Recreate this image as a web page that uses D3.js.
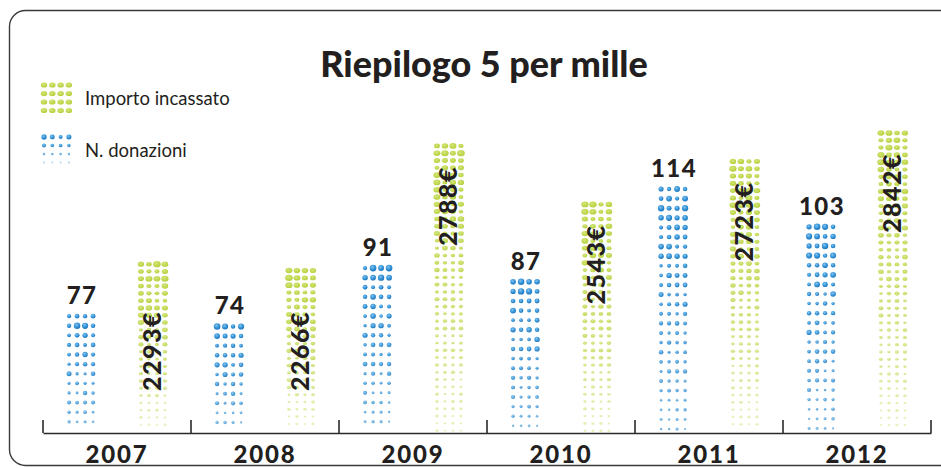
<!DOCTYPE html>
<html>
<head>
<meta charset="utf-8">
<script src="https://cdn.jsdelivr.net/npm/d3@7"></script>
<style>
  html, body { margin: 0; padding: 0; background: #fff; }
  svg { display: block; }
  text { font-family: Lato, "Open Sans", sans-serif; fill: #231f20; }
</style>
</head>
<body>
<svg id="chart" width="941" height="468"></svg>
<script>
// data
const years = ['2007', '2008', '2009', '2010', '2011', '2012']
const donazioni = [77, 74, 91, 87, 114, 103]
const importi = [2293, 2266, 2788, 2543, 2723, 2842]
const seriesKeys = ['donazioni', 'importo']
const legendLabels = ['Importo incassato', 'N. donazioni']
const title = 'Riepilogo 5 per mille'

const baseY = 433
const colors = { donazioni: 'url(#gradBlue)', importo: 'url(#gradGreen)' }

const svg = d3.select('#chart')

const defs = svg.append('defs')
const gBlue = defs.append('radialGradient').attr('id', 'gradBlue')
  .attr('cx', '40%').attr('cy', '35%').attr('r', '70%')
gBlue.append('stop').attr('offset', '0%').attr('stop-color', '#7fc2ee')
gBlue.append('stop').attr('offset', '60%').attr('stop-color', '#2d8ed4')
gBlue.append('stop').attr('offset', '100%').attr('stop-color', '#1f74b9')
const gGreen = defs.append('radialGradient').attr('id', 'gradGreen')
  .attr('cx', '40%').attr('cy', '35%').attr('r', '70%')
gGreen.append('stop').attr('offset', '0%').attr('stop-color', '#d3e576')
gGreen.append('stop').attr('offset', '100%').attr('stop-color', '#b3cf38')

// frame
svg.append('rect')
  .attr('x', 9.5).attr('y', 10.5)
  .attr('width', 960).attr('height', 455)
  .attr('rx', 16)
  .attr('fill', 'none')
  .attr('stroke', '#3a3a3a')
  .attr('stroke-width', 1.4)

// title
svg.append('text')
  .attr('x', 484).attr('y', 77)
  .attr('text-anchor', 'middle')
  .style('font-size', '36px')
  .style('font-weight', 900)
  .text(title)

// scales
const x0 = d3.scaleBand().domain(years).range([43, 931])
const x1 = d3.scalePoint().domain(seriesKeys).range([0, x0.bandwidth()]).padding(0.53)
const yCount = d3.scaleLinear().domain([43, 114]).range([baseY, baseY - 244])
const yAmount = d3.scaleLinear().domain([1586, 2842]).range([baseY, baseY - 300])

const rows = years.map((yr, i) => ({ year: yr, count: donazioni[i], amount: importi[i] }))

// pseudo pattern for dot size
function hash (a, b, c) {
  const s = Math.sin(a * 12.9898 + b * 78.233 + c * 37.719) * 43758.5453
  return s - Math.floor(s)
}

const colOffsets = [-12, -4, 4, 12]

function dotsFor (d, bi, key) {
  const top = key === 'donazioni' ? yCount(d.count) : yAmount(d.amount)
  const step = key === 'donazioni' ? 9.6 : 7.3
  const cx = x0(d.year) + x1(key)
  const out = []
  const n = Math.floor((baseY - 2 - top) / step) + 1
  for (let r = 0; r < n; r++) {
    const t = n > 1 ? r / (n - 1) : 0
    colOffsets.forEach((o, c) => {
      const h = hash(bi + (key === 'importo' ? 17 : 0), r, c)
      let rad, op
      if (key === 'donazioni') {
        rad = (3.4 - 1.6 * t) * (0.6 + 0.4 * h)
        op = 1 - 0.3 * t * t
      } else {
        rad = (3.5 - 2.0 * t) * (0.65 + 0.35 * h)
        op = 1 - 0.6 * t * t
      }
      out.push({ key, x: cx + o, y: top + r * step, r: Math.max(0.7, rad), op })
    })
  }
  return out
}

const allDots = []
rows.forEach((d, i) => {
  allDots.push(...dotsFor(d, i, 'donazioni'))
  allDots.push(...dotsFor(d, i, 'importo'))
})

svg.append('g').attr('class', 'dots')
  .selectAll('ellipse')
  .data(allDots)
  .join('ellipse')
  .attr('cx', d => d.x)
  .attr('cy', d => d.y)
  .attr('rx', d => d.key === 'importo' ? d.r * 1.12 : d.r)
  .attr('ry', d => d.key === 'importo' ? d.r * 0.9 : d.r)
  .attr('fill', d => colors[d.key])
  .attr('opacity', d => d.op)

// count labels
svg.append('g')
  .selectAll('text')
  .data(rows)
  .join('text')
  .attr('x', d => x0(d.year) + x1('donazioni') + 1)
  .attr('y', d => yCount(d.count) - 12)
  .attr('text-anchor', 'middle')
  .style('font-size', '24px')
  .style('font-weight', 900)
  .style('letter-spacing', '1.5px')
  .text(d => d.count)

// amount labels (rotated)
svg.append('g')
  .selectAll('text')
  .data(rows)
  .join('text')
  .attr('transform', d => {
    const top = yAmount(d.amount)
    const cx = x0(d.year) + x1('importo') + 8
    const yStart = baseY - top < 185 ? baseY - 42 : top + 100
    return `translate(${cx},${yStart}) rotate(-90)`
  })
  .attr('text-anchor', 'start')
  .style('font-size', '25px')
  .style('font-weight', 900)
  .style('letter-spacing', '1.5px')
  .text(d => d.amount + '€')

// axis
const axis = d3.axisBottom(x0).tickSize(0)
const gx = svg.append('g')
  .attr('transform', `translate(0,${baseY})`)
  .call(axis)
gx.select('.domain').attr('stroke', '#2a2a2a').attr('stroke-width', 1.6)
gx.selectAll('.tick text')
  .attr('y', 30)
  .attr('dy', null)
  .style('font-family', 'Lato, sans-serif')
  .style('font-size', '24px')
  .style('font-weight', 900)
  .style('letter-spacing', '1.8px')
  .attr('fill', '#231f20')
gx.selectAll('.sep')
  .data(years.concat(['end']))
  .join('line')
  .attr('class', 'sep')
  .attr('x1', d => d === 'end' ? x0.range()[1] : x0(d))
  .attr('x2', d => d === 'end' ? x0.range()[1] : x0(d))
  .attr('y1', 0).attr('y2', -13)
  .attr('stroke', '#2a2a2a')
  .attr('stroke-width', 1.6)

// legend
const legend = svg.append('g').attr('class', 'legend')
const legendItems = [
  { label: legendLabels[0], key: 'importo', y: 85 },
  { label: legendLabels[1], key: 'donazioni', y: 137 }
]
legendItems.forEach((it, li) => {
  const g = legend.append('g').attr('transform', `translate(0,${it.y})`)
  for (let r = 0; r < 4; r++) {
    for (let c = 0; c < 4; c++) {
      const t = r / 3
      const rad = it.key === 'importo' ? 2.9 : (2.7 - 1.5 * t) * (0.7 + 0.3 * hash(li, r, c))
      g.append('ellipse')
        .attr('cx', 44 + c * 8.3)
        .attr('cy', r * 8.5)
        .attr('rx', it.key === 'importo' ? rad * 1.12 : rad)
        .attr('ry', it.key === 'importo' ? rad * 0.9 : rad)
        .attr('fill', colors[it.key])
        .attr('opacity', it.key === 'importo' ? 1 : 1 - 0.6 * t * t)
    }
  }
  g.append('text')
    .attr('x', 85).attr('y', 20)
    .style('font-size', '18.5px')
    .text(it.label)
})
</script>
</body>
</html>
